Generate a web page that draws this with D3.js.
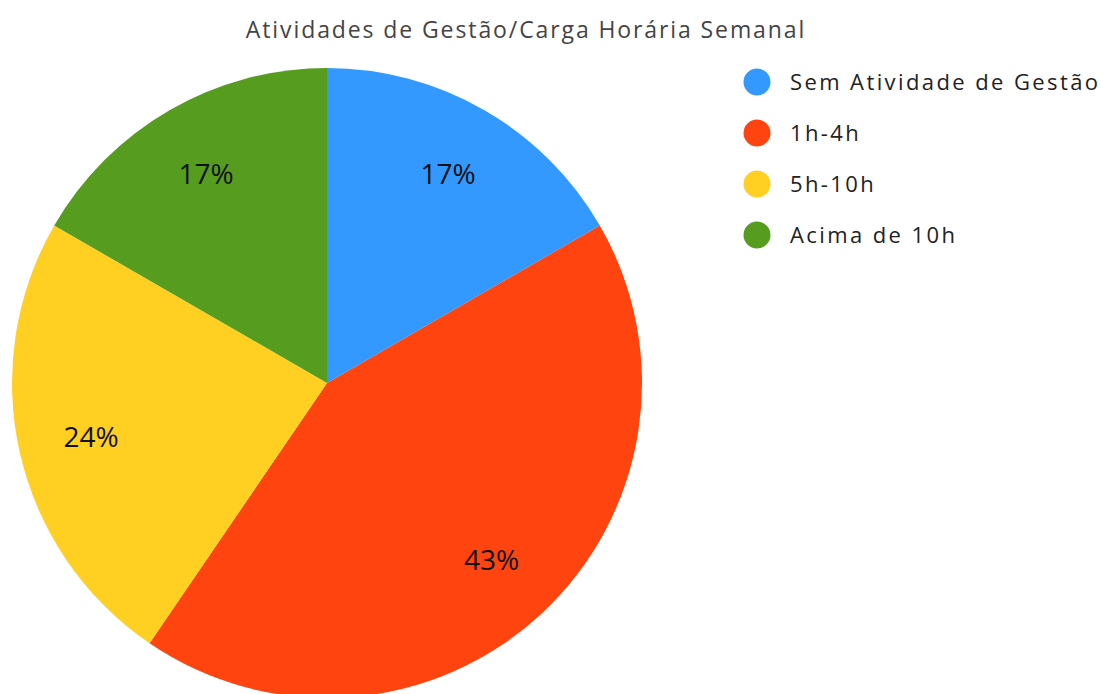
<!DOCTYPE html>
<html><head><meta charset="utf-8">
<script src="https://cdn.jsdelivr.net/npm/d3@7"></script>
<style>body{margin:0;background:#fff;}svg{display:block;font-family:"Open Sans",sans-serif;}</style>
</head><body>
<svg id="c" width="1103" height="694"></svg>
<script>
const title = "Atividades de Gestão/Carga Horária Semanal";
const categories = ["Sem Atividade de Gestão", "1h-4h", "5h-10h", "Acima de 10h"];
const values = [7, 18, 10, 7];
const colors = ["#3399ff", "#ff4410", "#ffd021", "#569c1f"];

const svg = d3.select("#c");
const cx = 327, cy = 383, r = 315, lr = 242;
const total = d3.sum(values);
const pie = d3.pie().sort(null).value(d => d)(values);
const arc = d3.arc().innerRadius(0).outerRadius(r);
const labelArc = d3.arc().innerRadius(lr).outerRadius(lr);
const color = d3.scaleOrdinal().domain(categories).range(colors);

const g = svg.append("g").attr("transform", `translate(${cx},${cy})`);
g.selectAll("path").data(pie).join("path")
  .attr("d", arc).attr("fill", (d,i) => color(categories[i]));
g.selectAll("text").data(pie).join("text")
  .attr("transform", d => `translate(${labelArc.centroid(d)})`)
  .attr("text-anchor", "middle").attr("dy", "0.36em")
  .attr("font-size", 28).attr("fill", "#111")
  .text(d => Math.round(d.value / total * 100) + "%");

svg.append("text").attr("x", 526).attr("y", 38).attr("text-anchor", "middle")
  .attr("font-size", 23).attr("letter-spacing", 1.9).attr("fill", "#444").text(title);

const lg = svg.append("g");
const items = lg.selectAll("g").data(categories).join("g")
  .attr("transform", (d,i) => `translate(757,${82 + i*51})`);
items.append("circle").attr("r", 13.5).attr("fill", d => color(d));
items.append("text").attr("x", 33).attr("dy", "0.36em")
  .attr("font-size", 22).attr("letter-spacing", 2.4).attr("fill", "#222").text(d => d);
</script>
</body></html>
